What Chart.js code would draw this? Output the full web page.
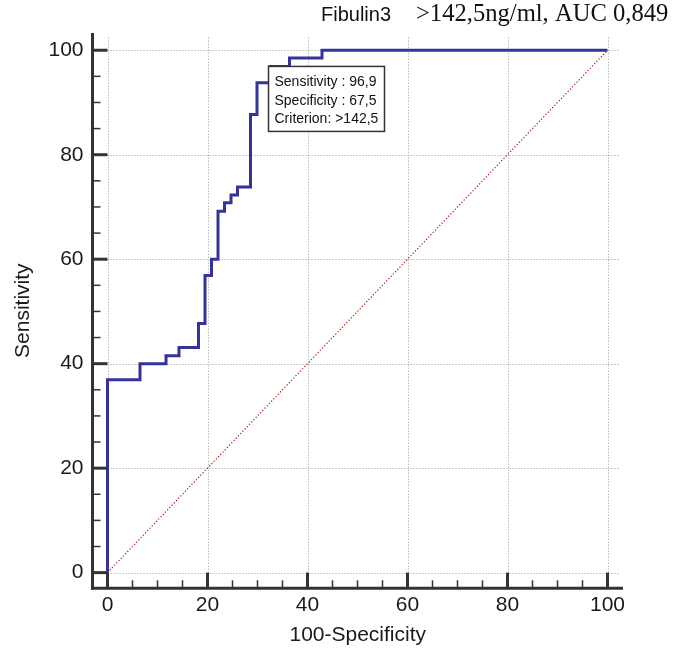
<!DOCTYPE html>
<html>
<head>
<meta charset="utf-8">
<script src="https://cdn.jsdelivr.net/npm/chart.js@4"></script>
<style>
html,body{margin:0;padding:0;background:#fff;}
#wrap{width:673px;height:655px;position:relative;}
</style>
</head>
<body>
<div id="wrap"><canvas id="c" width="673" height="655"></canvas></div>
<script>
// ---- data ----
const titleName = 'Fibulin3';
const titleInfo = '>142,5ng/ml, AUC 0,849';
const xTickValues = [0, 20, 40, 60, 80, 100];
const yTickValues = [0, 20, 40, 60, 80, 100];
// ROC curve: 100-specificity where a step occurs, and sensitivity after that step
const stepFpr  = [0,    6.5,  11.7, 14.3, 18.2, 19.5, 20.8, 22.1, 23.4, 24.7, 26.0, 28.6, 29.9, 32.5, 36.4, 42.9];
const stepSens = [36.9, 40.0, 41.5, 43.1, 47.7, 56.9, 60.0, 69.2, 70.8, 72.3, 73.8, 87.7, 93.8, 96.9, 98.5, 100];
const curveEnd = 100;
const diagX = [0, 100];
const diagY = [0, 100];
const criterionFpr = 32.5;
const criterionSens = 96.9;
const boxLines = ['Sensitivity : 96,9', 'Specificity : 67,5', 'Criterion: >142,5'];
const xTitle = '100-Specificity';
const yTitle = 'Sensitivity';

// ---- build point tables ----
const rocPoints = [{x: 0, y: 0}];
let prev = 0;
for (let i = 0; i < stepFpr.length; i++) {
  rocPoints.push({x: stepFpr[i], y: prev});
  rocPoints.push({x: stepFpr[i], y: stepSens[i]});
  prev = stepSens[i];
}
rocPoints.push({x: curveEnd, y: prev});
const diagPoints = diagX.map((v, i) => ({x: v, y: diagY[i]}));

const SANS = "'Liberation Sans', Arial, Helvetica, sans-serif";
const SERIF = "'Liberation Serif', 'Times New Roman', serif";
const AXIS_COLOR = '#333333';

const framePlugin = {
  id: 'frame',
  beforeDatasetsDraw(chart) {
    const ctx = chart.ctx, xs = chart.scales.x, ys = chart.scales.y;
    const area = chart.chartArea;
    ctx.save();
    ctx.strokeStyle = '#9a9a9a';
    ctx.lineWidth = 1;
    ctx.setLineDash([1, 2]);
    const gTop = ys.getPixelForValue(102.4);
    const gRight = xs.getPixelForValue(102.3);
    xTickValues.forEach(v => {
      const px = Math.round(xs.getPixelForValue(v)) + 0.5;
      ctx.beginPath(); ctx.moveTo(px, gTop); ctx.lineTo(px, area.bottom); ctx.stroke();
    });
    yTickValues.forEach(v => {
      const py = Math.round(ys.getPixelForValue(v)) + 0.5;
      ctx.beginPath(); ctx.moveTo(area.left, py); ctx.lineTo(gRight, py); ctx.stroke();
    });
    ctx.restore();
  },
  afterDatasetsDraw(chart) {
    const ctx = chart.ctx, xs = chart.scales.x, ys = chart.scales.y;
    const area = chart.chartArea;
    ctx.save();
    ctx.setLineDash([]);
    ctx.strokeStyle = AXIS_COLOR;
    ctx.lineCap = 'butt';
    // axis lines
    ctx.lineWidth = 3;
    ctx.beginPath(); ctx.moveTo(area.left, area.top); ctx.lineTo(area.left, area.bottom + 1.5); ctx.stroke();
    ctx.beginPath(); ctx.moveTo(area.left - 1.5, area.bottom); ctx.lineTo(area.right, area.bottom); ctx.stroke();
    // x ticks (inward)
    const x0 = xs.getPixelForValue(0), y0 = ys.getPixelForValue(0);
    for (let v = 0; v <= 100; v += 5) {
      const px = xs.getPixelForValue(v);
      const major = xTickValues.includes(v);
      ctx.lineWidth = major ? 3 : 1.5;
      ctx.beginPath();
      ctx.moveTo(px, area.bottom);
      ctx.lineTo(px, major ? y0 : area.bottom - 8);
      ctx.stroke();
    }
    for (let v = 0; v <= 100; v += 5) {
      const py = ys.getPixelForValue(v);
      const major = yTickValues.includes(v);
      ctx.lineWidth = major ? 3 : 1.5;
      ctx.beginPath();
      ctx.moveTo(area.left, py);
      ctx.lineTo(major ? x0 : area.left + 8, py);
      ctx.stroke();
    }
    // criterion box
    const bx = xs.getPixelForValue(criterionFpr) - 1.5;
    const by = ys.getPixelForValue(criterionSens);
    const bw = 116, bh = 65;
    ctx.fillStyle = '#ffffff';
    ctx.fillRect(bx, by, bw, bh);
    ctx.lineWidth = 1.5;
    ctx.strokeStyle = '#333333';
    ctx.strokeRect(bx, by, bw, bh);
    ctx.fillStyle = '#111111';
    ctx.font = '14px ' + SANS;
    ctx.textAlign = 'left';
    ctx.textBaseline = 'alphabetic';
    boxLines.forEach((t, i) => ctx.fillText(t, bx + 6, by + 19.7 + i * 18.5));
    ctx.restore();
  },
  afterDraw(chart) {
    const ctx = chart.ctx;
    ctx.save();
    ctx.fillStyle = '#111111';
    ctx.textBaseline = 'alphabetic';
    ctx.textAlign = 'left';
    ctx.font = '20px ' + SANS;
    ctx.fillText(titleName, 321, 21);
    ctx.font = '24.6px ' + SERIF;
    ctx.fillText(titleInfo, 416, 21);
    ctx.restore();
  }
};

new Chart(document.getElementById('c'), {
  type: 'line',
  data: {
    datasets: [
      {
        data: diagPoints,
        borderColor: '#b01515',
        borderWidth: 1.2,
        borderDash: [1.2, 2],
        pointRadius: 0,
        fill: false,
        tension: 0,
        order: 2
      },
      {
        data: rocPoints,
        borderColor: '#33339a',
        borderWidth: 3,
        borderJoinStyle: 'miter',
        borderCapStyle: 'butt',
        pointRadius: 0,
        fill: false,
        tension: 0,
        order: 1
      }
    ]
  },
  options: {
    responsive: false,
    animation: false,
    devicePixelRatio: 1,
    layout: {padding: {left: 0, right: 50, top: 33, bottom: 0}},
    plugins: {legend: {display: false}, tooltip: {enabled: false}, title: {display: false}},
    scales: {
      x: {
        type: 'linear',
        min: -3,
        max: 103.1,
        afterBuildTicks: s => { s.ticks = xTickValues.map(v => ({value: v})); },
        afterFit: s => { s.height = 66.7; },
        grid: {display: false, drawTicks: false},
        border: {display: false},
        ticks: {
          autoSkip: false, maxRotation: 0, padding: 4,
          color: '#1a1a1a',
          font: {family: SANS, size: 21}
        },
        title: {
          display: true, text: xTitle, color: '#1a1a1a',
          font: {family: SANS, size: 21},
          padding: {top: 0, bottom: 7.4}
        }
      },
      y: {
        type: 'linear',
        min: -3,
        max: 103.3,
        afterBuildTicks: s => { s.ticks = yTickValues.map(v => ({value: v})); },
        afterFit: s => { s.width = 92.5; },
        grid: {display: false, drawTicks: false},
        border: {display: false},
        ticks: {
          autoSkip: false, padding: 9,
          color: '#1a1a1a',
          font: {family: SANS, size: 21}
        },
        title: {
          display: true, text: yTitle, color: '#1a1a1a',
          font: {family: SANS, size: 21},
          padding: {top: 10.4, bottom: 0}
        }
      }
    }
  },
  plugins: [framePlugin]
});
</script>
</body>
</html>
